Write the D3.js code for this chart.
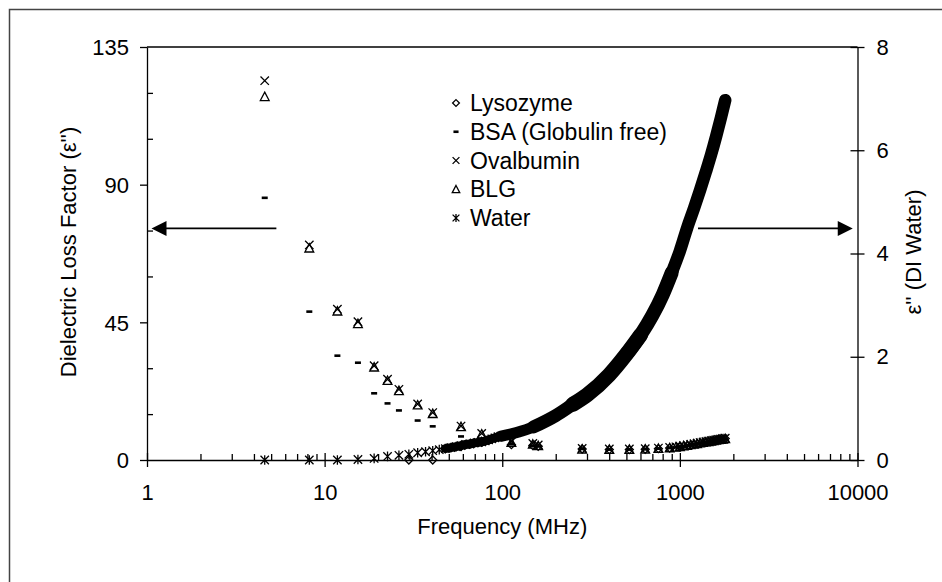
<!DOCTYPE html>
<html>
<head>
<meta charset="utf-8">
<script src="https://cdn.jsdelivr.net/npm/d3@7"></script>
<style>
  html, body { margin: 0; padding: 0; background: #fff; }
  svg { display: block; font-family: "Liberation Sans", Arial, sans-serif; }
  .axis path, .axis line { stroke: #000; stroke-width: 1.3; }
  .axis text { font-size: 22px; fill: #000; font-family: "Liberation Sans", Arial, sans-serif; }
</style>
</head>
<body>
<div id="chart"></div>
<script>
// tick values and labels
var xTicks = [1, 10, 100, 1000, 10000];
var xTickLabels = ['1', '10', '100', '1000', '10000'];
var leftTicks = [0, 45, 90, 135];
var leftMinor = [15, 30, 60, 75, 105, 120];
var rightTicks = [0, 2, 4, 6, 8];

// protein measurements (left axis), frequency in MHz
var proteinFreq = [4.6, 8.2, 11.8, 15.4, 19.0, 22.6, 26.2, 33.4, 40.6, 58.6, 76.6, 112.6, 148.6, 159.4,
  281.8, 400.6, 519.4, 638.2, 757, 875.8, 950, 1000, 1050, 1100, 1150, 1200, 1250, 1300, 1350,
  1400, 1450, 1500, 1550, 1600, 1650, 1700, 1750, 1800];
var ovalbumin = [124, 70.3, 49.3, 45.2, 30.8, 26.4, 23.1, 18.3, 15.5, 11.1, 8.7, 6.0, 5.4, 4.9,
  3.8, 3.6, 3.6, 3.7, 3.9, 4.1, 4.3, 4.5, 4.7, 4.9, 5.1, 5.3, 5.5, 5.7, 5.85,
  6.0, 6.15, 6.3, 6.45, 6.6, 6.75, 6.85, 6.95, 7.1];
var blg = [118.8, 69.3, 48.7, 44.6, 30.4, 26.0, 22.7, 18.0, 15.2, 10.9, 8.5, 5.8, 5.2, 4.7,
  3.6, 3.5, 3.5, 3.6, 3.8, 4.0, 4.2, 4.4, 4.6, 4.8, 5.0, 5.2, 5.4, 5.6, 5.75,
  5.9, 6.05, 6.2, 6.35, 6.5, 6.65, 6.75, 6.85, 7.0];
var bsa = [85.7, 48.5, 34.1, 31.8, 21.8, 18.5, 16.2, 12.9, 11.0, 7.7, 6.3, 5.2, 4.6, 4.4,
  3.6, 3.4, 3.4, 3.5, 3.7, 3.9, 4.1, 4.3, 4.5, 4.7, 4.9, 5.1, 5.3, 5.5, 5.65,
  5.8, 5.95, 6.1, 6.25, 6.4, 6.55, 6.65, 6.75, 6.9];
var lysozymeFreq = [29.8, 40.6, 58.6, 76.6, 112.6, 148.6, 159.4, 281.8, 400.6, 519.4, 638.2, 757, 875.8,
  1000, 1200, 1400, 1600, 1800];
var lysozyme = [0, 0, 4.4, 5.8, 5.0, 4.7, 4.5, 3.6, 3.4, 3.4, 3.5, 3.7, 3.9, 4.4, 5.2, 5.9, 6.5, 7.0];

// DI water (right axis)
var waterFreq = [4.6, 8.2, 11.8, 15.4, 19.0, 22.6, 26.2, 29.8, 33.4, 37.0, 40.6, 44.2, 47.8, 51.4, 55.0,
  58.6, 62.2, 65.8, 69.4, 73.0, 76.6, 80.2, 83.8, 87.4, 91.0, 94.6, 98.2, 120, 150, 200, 250, 300,
  400, 500, 600, 700, 800, 900, 1000, 1100, 1200, 1300, 1400, 1500, 1600, 1700, 1800];
var water = [0, 0, 0, 0.01, 0.03, 0.07, 0.09, 0.11, 0.14, 0.16, 0.18, 0.2, 0.22, 0.24, 0.26,
  0.28, 0.3, 0.31, 0.33, 0.34, 0.35, 0.37, 0.39, 0.41, 0.43, 0.45, 0.46, 0.53, 0.64, 0.86, 1.08, 1.26,
  1.65, 2.05, 2.42, 2.8, 3.2, 3.63, 4.05, 4.5, 4.87, 5.23, 5.58, 5.92, 6.27, 6.62, 6.97];

var legendNames = ['Lysozyme', 'BSA (Globulin free)', 'Ovalbumin', 'BLG', 'Water'];
var legendSymbols = ['diamond', 'dash', 'cross', 'triangle', 'star'];

// arrows, in data units: [from freq, to freq] at a left-axis level
var arrowLevel = 75.7;
var leftArrow = [5.35, 1.06];
var rightArrow = [1265, 9400];

var w = 942, h = 582;
var plot = { left: 147, right: 857.5, top: 47, bottom: 460 };

var svg = d3.select('#chart').append('svg')
  .attr('width', w)
  .attr('height', h);

// chart border
svg.append('rect')
  .attr('x', 9.5).attr('y', 9.5)
  .attr('width', w).attr('height', h)
  .attr('fill', '#fff')
  .attr('stroke', '#444')
  .attr('stroke-width', 1.5);

var x = d3.scaleLog().domain([1, 10000]).range([plot.left, plot.right]);
var yL = d3.scaleLinear().domain([0, 135]).range([plot.bottom, plot.top]);
var yR = d3.scaleLinear().domain([0, 8]).range([plot.bottom, plot.top]);

// minor ticks on the log axis
var xMinor = [];
xTicks.slice(0, -1).forEach(function(d) {
  for (var k = 2; k < 10; k++) xMinor.push(d * k);
});

// x axis minor (inward)
svg.append('g')
  .attr('class', 'axis')
  .attr('transform', 'translate(0,' + plot.bottom + ')')
  .call(d3.axisBottom(x).tickValues(xMinor).tickSize(-6).tickFormat(''))
  .select('.domain').remove();

// x axis major (crossing)
var xAxis = svg.append('g')
  .attr('class', 'axis')
  .attr('transform', 'translate(0,' + plot.bottom + ')')
  .call(d3.axisBottom(x).tickValues(xTicks).tickSizeOuter(0)
    .tickFormat(function(d, i) { return xTickLabels[i]; }));
xAxis.selectAll('.tick line').attr('y1', -7).attr('y2', 7);
xAxis.selectAll('.tick text').attr('y', 0).attr('dy', 0).attr('transform', 'translate(0,40)');

// left axis
svg.append('g')
  .attr('class', 'axis')
  .attr('transform', 'translate(' + plot.left + ',0)')
  .call(d3.axisLeft(yL).tickValues(leftMinor).tickSize(-6).tickFormat(''))
  .select('.domain').remove();
var leftAxis = svg.append('g')
  .attr('class', 'axis')
  .attr('transform', 'translate(' + plot.left + ',0)')
  .call(d3.axisLeft(yL).tickValues(leftTicks).tickSize(7).tickSizeOuter(0).tickPadding(11));
leftAxis.selectAll('.tick text').attr('dy', '0.35em');

// right axis
var rightAxis = svg.append('g')
  .attr('class', 'axis')
  .attr('transform', 'translate(' + plot.right + ',0)')
  .call(d3.axisRight(yR).tickValues(rightTicks).tickSize(7).tickSizeOuter(0).tickPadding(12));
rightAxis.selectAll('.tick line').attr('x1', -7).attr('x2', 7);
rightAxis.selectAll('.tick text').attr('x', 19);

// top border of plot area
svg.append('line')
  .attr('x1', plot.left).attr('x2', plot.right)
  .attr('y1', plot.top).attr('y2', plot.top)
  .attr('stroke', '#000').attr('stroke-width', 1.3);

// axis titles
svg.append('text')
  .attr('transform', 'translate(68,252) rotate(-90)')
  .attr('text-anchor', 'middle')
  .attr('dominant-baseline', 'central')
  .style('font-size', '22px')
  .text('Dielectric Loss Factor (ε\'\')');

svg.append('text')
  .attr('transform', 'translate(913,252) rotate(-90)')
  .attr('text-anchor', 'middle')
  .attr('dominant-baseline', 'central')
  .style('font-size', '22px')
  .text('ε\'\' (DI Water)');

svg.append('text')
  .attr('x', x(100))
  .attr('y', 534)
  .attr('text-anchor', 'middle')
  .style('font-size', '22px')
  .text('Frequency (MHz)');

// marker shapes
function symbolPath(type, s) {
  switch (type) {
    case 'diamond':
      return 'M0,' + (-s) + 'L' + s + ',0L0,' + s + 'L' + (-s) + ',0Z';
    case 'cross':
      return 'M' + (-s) + ',' + (-s) + 'L' + s + ',' + s + 'M' + (-s) + ',' + s + 'L' + s + ',' + (-s);
    case 'triangle':
      return 'M0,' + (-s * 1.1) + 'L' + (s * 1.1) + ',' + s + 'L' + (-s * 1.1) + ',' + s + 'Z';
    case 'star':
      return 'M' + (-s) + ',' + (-s) + 'L' + s + ',' + s + 'M' + (-s) + ',' + s + 'L' + s + ',' + (-s) +
        'M0,' + (-s * 1.15) + 'L0,' + (s * 1.15);
  }
  return '';
}

function drawMarkers(g, type, pts, s) {
  if (type == 'dash') {
    g.selectAll('rect.m').data(pts).enter()
      .append('rect')
      .attr('class', 'm')
      .attr('x', function(d) { return d[0] - s * 0.75; })
      .attr('y', function(d) { return d[1] - 1.3; })
      .attr('width', s * 1.5)
      .attr('height', 2.6)
      .attr('fill', '#000');
    return;
  }
  g.selectAll('path.m').data(pts).enter()
    .append('path')
    .attr('class', 'm')
    .attr('transform', function(d) { return 'translate(' + d[0] + ',' + d[1] + ')'; })
    .attr('d', symbolPath(type, s))
    .attr('fill', 'none')
    .attr('stroke', '#000')
    .attr('stroke-width', 1.3);
}

function pts(freqs, vals, y) {
  return freqs.map(function(f, i) { return [x(f), y(vals[i])]; });
}

var dataG = svg.append('g');

//draw protein series
drawMarkers(dataG.append('g'), 'diamond', pts(lysozymeFreq, lysozyme, yL), 4);
drawMarkers(dataG.append('g'), 'dash', pts(proteinFreq, bsa, yL), 4);
drawMarkers(dataG.append('g'), 'cross', pts(proteinFreq, ovalbumin, yL), 4.2);
drawMarkers(dataG.append('g'), 'triangle', pts(proteinFreq, blg, yL), 4);

//water: dense band of overlapping markers, drawn as thick line pieces through the readings
var waterPts = waterFreq.map(function(f, i) { return { f: f, v: water[i] }; });
var band = d3.line()
  .x(function(d) { return x(d.f); })
  .y(function(d) { return yR(d.v); })
  .curve(d3.curveMonotoneX);
var bandPieces = [[46, 130, 9], [98, 200, 11], [150, 300, 13], [250, 650, 15], [500, 900, 14], [800, 1800, 12.5]];
bandPieces.forEach(function(p) {
  dataG.append('path')
    .datum(waterPts.filter(function(d) { return d.f >= p[0] && d.f <= p[1]; }))
    .attr('d', band)
    .attr('fill', 'none')
    .attr('stroke', '#000')
    .attr('stroke-width', p[2])
    .attr('stroke-linecap', 'round')
    .attr('stroke-linejoin', 'round');
});
drawMarkers(dataG.append('g'), 'star', pts(waterFreq, water, yR), 4.2);

// arrows
var ay = yL(arrowLevel);
[leftArrow, rightArrow].forEach(function(a) {
  var x0 = x(a[0]), x1 = x(a[1]);
  var dir = x1 > x0 ? 1 : -1;
  svg.append('line')
    .attr('x1', x0).attr('x2', x1 - dir * 12)
    .attr('y1', ay).attr('y2', ay)
    .attr('stroke', '#000').attr('stroke-width', 1.6);
  svg.append('path')
    .attr('d', 'M' + x1 + ',' + ay + 'L' + (x1 - dir * 15) + ',' + (ay - 7.5) + 'L' + (x1 - dir * 15) + ',' + (ay + 7.5) + 'Z')
    .attr('fill', '#000');
});

// legend
var legend = svg.append('g').attr('transform', 'translate(456,0)');
legendNames.forEach(function(name, i) {
  var ly = 103 + i * 28.75;
  var lg = legend.append('g');
  drawMarkers(lg, legendSymbols[i], [[0, ly]], 3.4);
  lg.append('text')
    .attr('x', 14)
    .attr('y', ly)
    .attr('dominant-baseline', 'central')
    .style('font-size', '23px')
    .text(name);
});
</script>
</body>
</html>
